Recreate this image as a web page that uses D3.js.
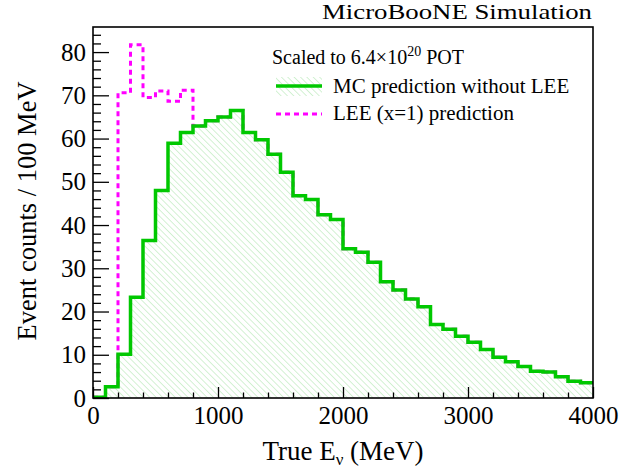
<!DOCTYPE html>
<html>
<head>
<meta charset="utf-8">
<script src="https://cdn.jsdelivr.net/npm/d3@7"></script>
<style>
  html, body { margin: 0; padding: 0; background: #fff; }
  svg { display: block; }
  text { font-family: "Liberation Serif", "Times New Roman", serif; fill: #000; }
</style>
</head>
<body>
<div id="chart"></div>
<script>
// ---------------- DATA ----------------
const binEdges = [0,100,200,300,400,500,600,700,800,900,1000,1100,1200,1300,1400,1500,1600,1700,1800,1900,
                  2000,2100,2200,2300,2400,2500,2600,2700,2800,2900,3000,3100,3200,3300,3400,3500,3600,3700,3800,3900,4000];
const mcValues = [0.2, 2.6, 10.1, 23.3, 36.4, 48.0, 58.9, 61.4, 62.9, 64.1,
                  65.0, 66.5, 61.4, 59.7, 56.4, 52.2, 46.8, 45.9, 42.4, 41.3,
                  34.5, 33.7, 31.4, 26.9, 25.0, 22.9, 21.1, 17.0, 15.9, 14.3,
                  12.9, 11.2, 9.4, 8.4, 7.3, 6.2, 6.0, 4.9, 3.9, 3.5];
const leeValues = [0.2, 2.6, 70.6, 81.7, 69.5, 71.0, 68.6, 71.2, 62.9, 64.1,
                  65.0, 66.5, 61.4, 59.7, 56.4, 52.2, 46.8, 45.9, 42.4, 41.3,
                  34.5, 33.7, 31.4, 26.9, 25.0, 22.9, 21.1, 17.0, 15.9, 14.3,
                  12.9, 11.2, 9.4, 8.4, 7.3, 6.2, 6.0, 4.9, 3.9, 3.5];
const xTickValues = [0, 1000, 2000, 3000, 4000];
const xMinorTicks = [200,400,600,800,1200,1400,1600,1800,2200,2400,2600,2800,3200,3400,3600,3800];
const yTickValues = [0, 10, 20, 30, 40, 50, 60, 70, 80];
const yMinorTicks = [2,4,6,8,12,14,16,18,22,24,26,28,32,34,36,38,42,44,46,48,52,54,56,58,62,64,66,68,72,74,76,78,82,84];
const xDomain = [0, 4000];
const yDomain = [0, 85.8];
const texts = {
  title: "MicroBooNE Simulation",
  scaled: "Scaled to 6.4\u00D710",
  scaledSup: "20",
  scaledEnd: " POT",
  mc: "MC prediction without LEE",
  lee: "LEE (x=1) prediction",
  yLabel: "Event counts / 100 MeV",
  xLabelMain: "True E",
  xLabelSub: "\u03BD",
  xLabelEnd: " (MeV)"
};

// ---------------- LAYOUT ----------------
const W = 641, H = 470;
const plot = { left: 93, right: 593, top: 27, bottom: 398 };
const green = "rgb(0,200,0)";
const magenta = "#ff00ff";

const svg = d3.select("#chart").append("svg").attr("width", W).attr("height", H);

const defs = svg.append("defs");
const pat = defs.append("pattern")
  .attr("id", "hatch").attr("patternUnits", "userSpaceOnUse")
  .attr("width", 4.5).attr("height", 4.5)
  .attr("patternTransform", "rotate(-45)");
pat.append("line").attr("x1", 0).attr("y1", 0).attr("x2", 0).attr("y2", 4.5)
  .attr("stroke", "#a8e4a8").attr("stroke-width", 1);

const x = d3.scaleLinear().domain(xDomain).range([plot.left, plot.right]);
const y = d3.scaleLinear().domain(yDomain).range([plot.bottom, plot.top]);

function stepPoints(vals) {
  const pts = vals.map((v, i) => [binEdges[i], v]);
  pts.push([binEdges[binEdges.length - 1], vals[vals.length - 1]]);
  return pts;
}

const clip = defs.append("clipPath").attr("id", "clip");
clip.append("rect").attr("x", plot.left).attr("y", plot.top)
  .attr("width", plot.right - plot.left).attr("height", plot.bottom - plot.top);

const g = svg.append("g").attr("clip-path", "url(#clip)");

// LEE (drawn first, underneath)
const line = d3.line().x(d => x(d[0])).y(d => y(d[1])).curve(d3.curveStepAfter);
g.append("path").attr("d", line(stepPoints(leeValues)))
  .attr("fill", "none").attr("stroke", magenta).attr("stroke-width", 3)
  .attr("stroke-dasharray", "5,4");

// MC hatched area
const area = d3.area().x(d => x(d[0])).y0(y(0)).y1(d => y(d[1])).curve(d3.curveStepAfter);
g.append("path").attr("d", area(stepPoints(mcValues))).attr("fill", "url(#hatch)");
g.append("path").attr("d", line(stepPoints(mcValues)))
  .attr("fill", "none").attr("stroke", green).attr("stroke-width", 3.5);

// Frame
svg.append("rect").attr("x", plot.left).attr("y", plot.top)
  .attr("width", plot.right - plot.left).attr("height", plot.bottom - plot.top)
  .attr("fill", "none").attr("stroke", "#000").attr("stroke-width", 1.6);

// Axes
const xAxis = d3.axisBottom(x).tickValues(xTickValues).tickSize(-11).tickPadding(8).tickFormat(d3.format("d"));
const gx = svg.append("g").attr("transform", `translate(0,${plot.bottom})`).call(xAxis);
const xAxisMinor = d3.axisBottom(x).tickValues(xMinorTicks).tickSize(-5.5).tickFormat("");
svg.append("g").attr("transform", `translate(0,${plot.bottom})`).call(xAxisMinor);

const yAxis = d3.axisLeft(y).tickValues(yTickValues).tickSize(-16).tickPadding(7);
const gy = svg.append("g").attr("transform", `translate(${plot.left},0)`).call(yAxis);
const yAxisMinor = d3.axisLeft(y).tickValues(yMinorTicks).tickSize(-8).tickFormat("");
svg.append("g").attr("transform", `translate(${plot.left},0)`).call(yAxisMinor);

svg.selectAll(".domain").remove();
svg.selectAll(".tick line").attr("stroke", "#000").attr("stroke-width", 1.3);
svg.selectAll(".tick text").attr("font-family", "Liberation Serif").attr("font-size", 25).attr("fill", "#000");
gx.selectAll(".tick text").attr("dy", "0.71em");

// Title
svg.append("text").attr("x", 592).attr("y", 19).attr("text-anchor", "end")
  .attr("font-size", 21).attr("textLength", 270).attr("lengthAdjust", "spacingAndGlyphs")
  .text(texts.title);

// Y label
svg.append("text").attr("transform", `translate(36,211) rotate(-90)`)
  .attr("text-anchor", "middle").attr("font-size", 26.5).text(texts.yLabel);

// X label
const xl = svg.append("text").attr("x", 343).attr("y", 460).attr("text-anchor", "middle").attr("font-size", 27);
xl.append("tspan").text(texts.xLabelMain);
xl.append("tspan").attr("font-size", 17).attr("dy", 5).text(texts.xLabelSub);
xl.append("tspan").attr("dy", -5).text(texts.xLabelEnd);

// Legend
const st = svg.append("text").attr("x", 272).attr("y", 64).attr("font-size", 20);
st.append("tspan").text(texts.scaled);
st.append("tspan").attr("font-size", 14).attr("dy", -8).text(texts.scaledSup);
st.append("tspan").attr("dy", 8).text(texts.scaledEnd);

svg.append("rect").attr("x", 276).attr("y", 77).attr("width", 46).attr("height", 19).attr("fill", "url(#hatch)");
svg.append("line").attr("x1", 276).attr("x2", 322).attr("y1", 86).attr("y2", 86)
  .attr("stroke", green).attr("stroke-width", 3.5);
svg.append("text").attr("x", 333).attr("y", 92.5).attr("font-size", 21).text(texts.mc);

svg.append("line").attr("x1", 276).attr("x2", 322).attr("y1", 114).attr("y2", 114)
  .attr("stroke", magenta).attr("stroke-width", 3).attr("stroke-dasharray", "5,4");
svg.append("text").attr("x", 333).attr("y", 120).attr("font-size", 21).text(texts.lee);
</script>
</body>
</html>
